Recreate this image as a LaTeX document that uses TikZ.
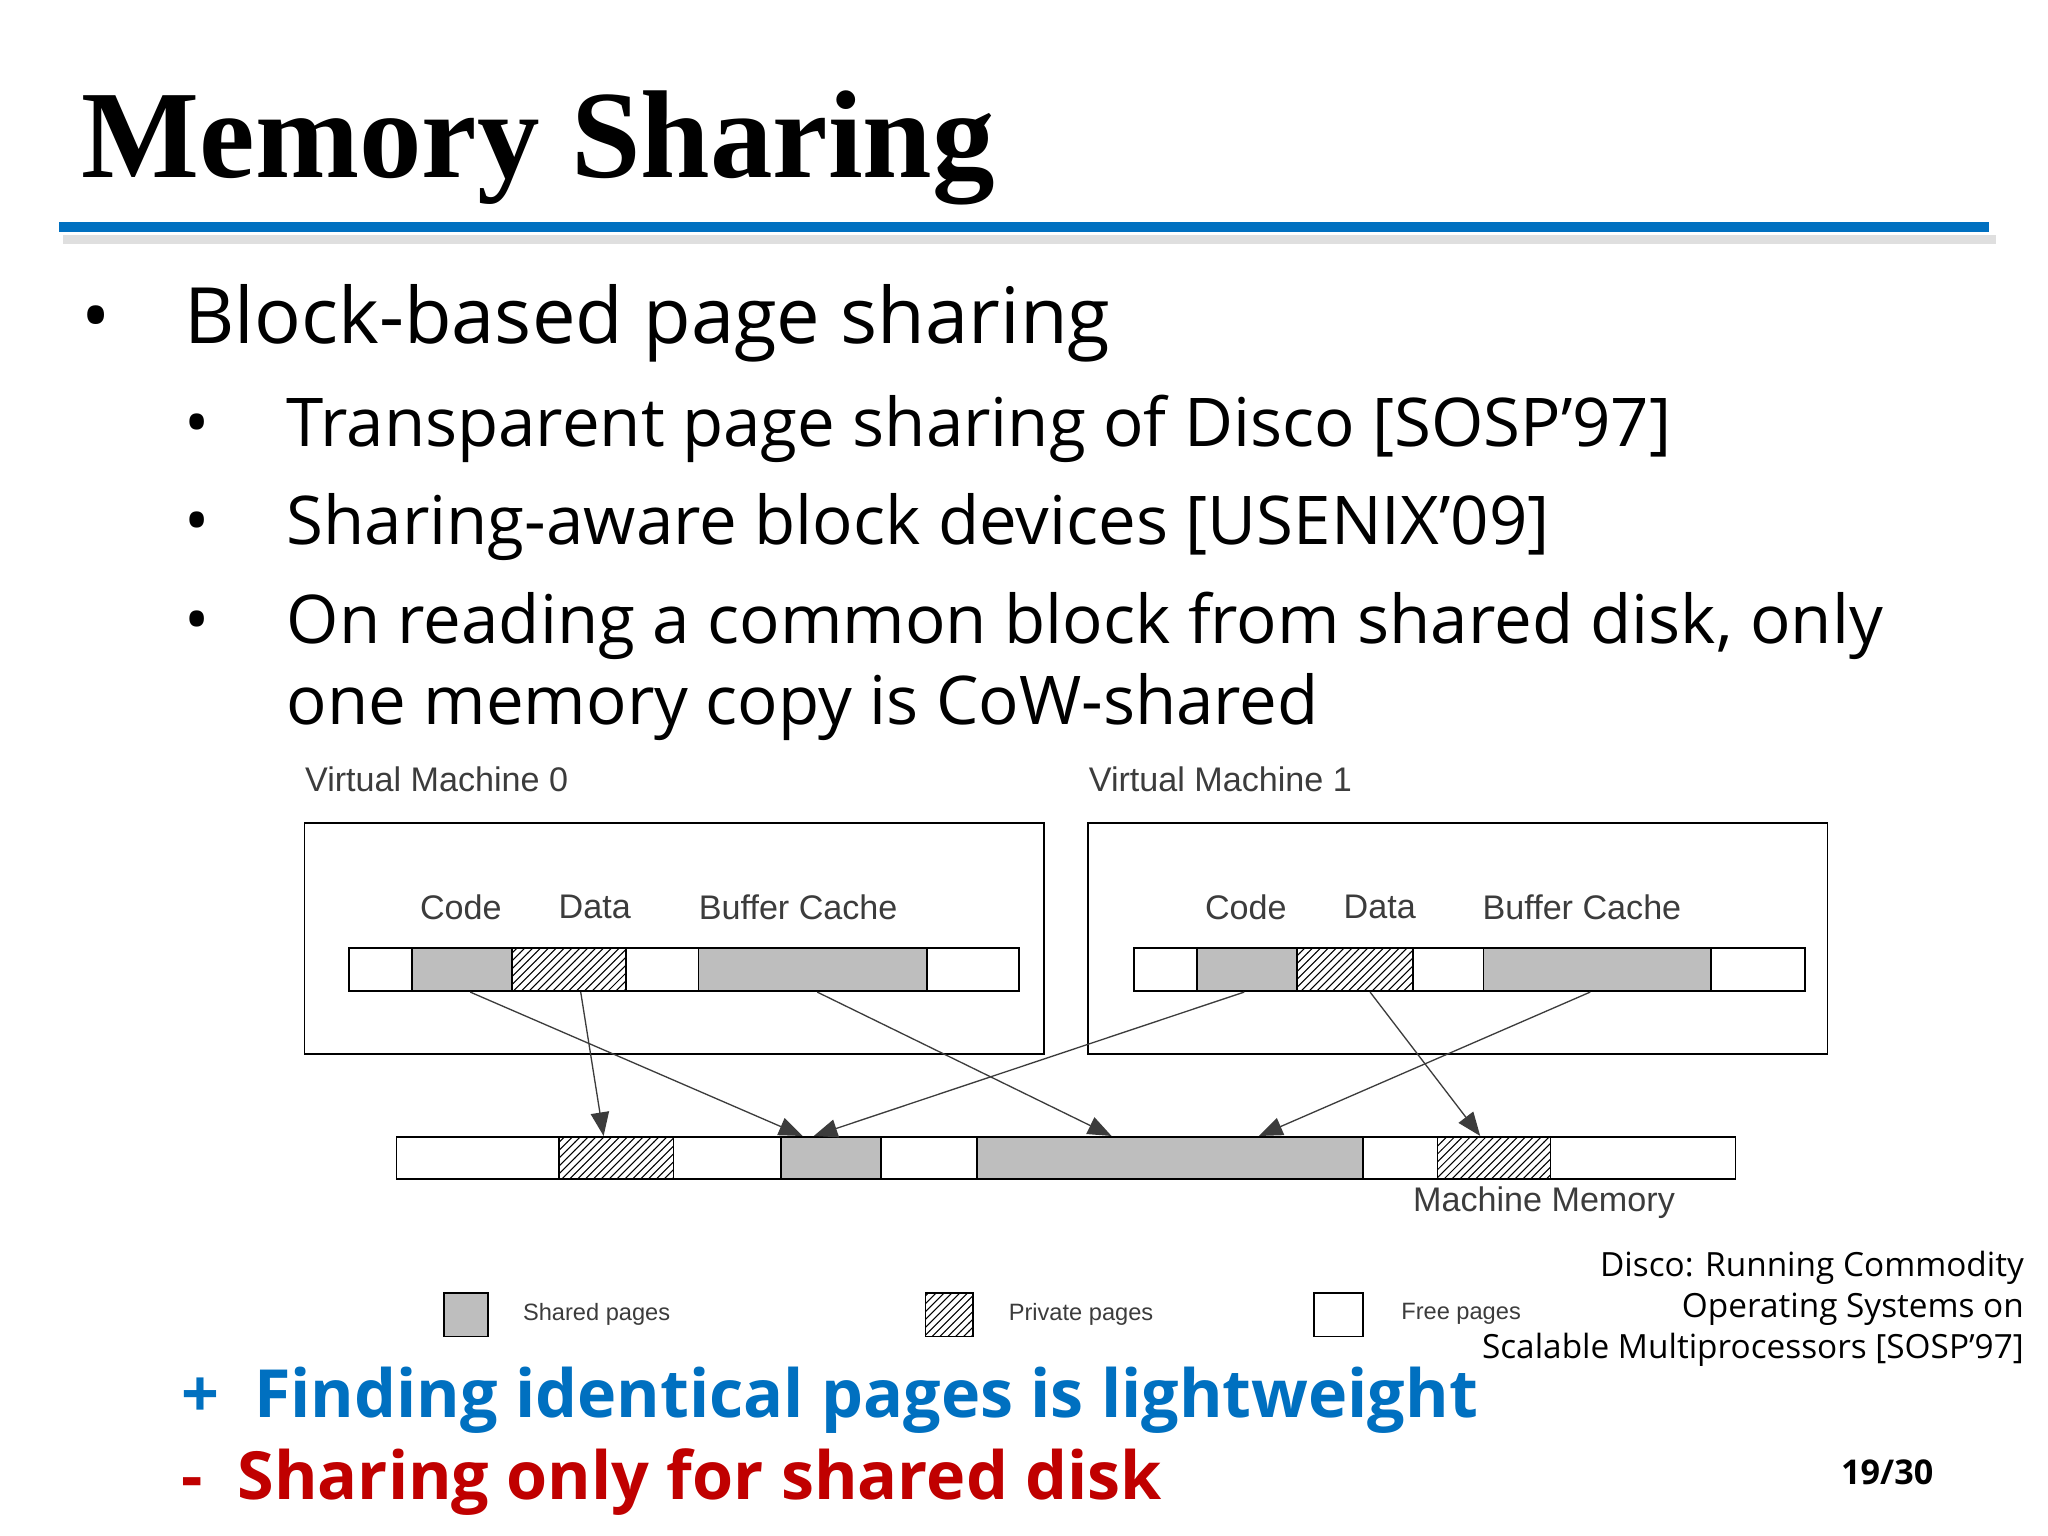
\documentclass[tikz,border=0pt]{standalone}
\usepackage{fontspec}
\setmainfont{Open Sans}
\newfontfamily\ttl{Liberation Serif}
\newfontfamily\arl{Liberation Sans}
\usetikzlibrary{fit,patterns,calc,arrows.meta}
\definecolor{tblue}{RGB}{0,112,192}
\definecolor{tred}{RGB}{192,0,0}
\definecolor{sgray}{RGB}{190,190,190}
\definecolor{lgray}{RGB}{60,60,60}
\tikzset{
 blk/.style={draw=black,line width=0.7pt,inner sep=0pt},
 shr/.style={blk,fill=sgray},
 prv/.style={blk,pattern=north east lines},
 fre/.style={blk,fill=white},
 lab/.style={font=\arl\fontsize{13}{14}\selectfont,text=lgray,inner sep=0pt},
 leg/.style={font=\arl\fontsize{9}{11}\selectfont,text=lgray,inner sep=0pt,anchor=west},
 arr/.style={-{Triangle[length=9pt,width=7pt]},line width=0.5pt,draw=lgray},
 b1/.style={font=\fontsize{29.6}{34}\selectfont,anchor=base west,inner sep=0pt},
 b2/.style={font=\fontsize{25.6}{30}\selectfont,anchor=base west,inner sep=0pt},
}
\newcommand{\blkn}[6]{\node[#6,fit={(#2,#3)(#4,#5)}] (#1) {};}
\begin{document}
\begin{tikzpicture}[x=0.5pt,y=-0.5pt]
\useasboundingbox[fill=white] (0,0) rectangle (1560,1170);
\node[font=\ttl\bfseries\fontsize{47.6}{54}\selectfont,anchor=base west,inner sep=0pt] (title) at (62,135) {Memory Sharing};
\fill[gray!25] (48,179) rectangle (1520,186);
\fill[tblue] (45,169) rectangle (1515,177);
% bullets
\node[b1] (d1) at (62,262) {•};
\node[b1] (t1) at (140,262) {Block-based page sharing};
\node[b2] (d2) at (140,340) {•};
\node[b2] (t2) at (218,340) {Transparent page sharing of Disco [SOSP’97]};
\node[b2] (d3) at (140,415) {•};
\node[b2] (t3) at (218,415) {Sharing-aware block devices [USENIX’09]};
\node[b2] (d4) at (140,490) {•};
\node[b2] (t4) at (218,490) {On reading a common block from shared disk, only};
\node[b2] (t5) at (218,552) {one memory copy is CoW-shared};
% VMs
\node[lab,anchor=base west] (vm0) at (232,603) {Virtual Machine 0};
\node[lab,anchor=base west] (vm1) at (829,603) {Virtual Machine 1};
\blkn{box0}{232}{627}{795}{803}{blk}
\blkn{box1}{829}{627}{1392}{803}{blk}
\node[lab] (c0) at (351,691) {Code};
\node[lab] (da0) at (453,691) {Data};
\node[lab] (bc0) at (608,691) {Buffer Cache};
\node[lab] (c1) at (949,691) {Code};
\node[lab] (da1) at (1051,691) {Data};
\node[lab] (bc1) at (1205,691) {Buffer Cache};
\blkn{bar0}{266}{722}{776}{755}{fre}
\blkn{vc0}{314}{722}{390}{755}{shr}
\blkn{vd0}{390}{722}{477}{755}{prv}
\blkn{vb0}{532}{722}{706}{755}{shr}
\blkn{bar1}{864}{722}{1375}{755}{fre}
\blkn{vc1}{912}{722}{988}{755}{shr}
\blkn{vd1}{988}{722}{1076}{755}{prv}
\blkn{vb1}{1130}{722}{1303}{755}{shr}
% machine memory
\blkn{mm}{302}{866}{1322}{898}{fre}
\blkn{m1}{426}{866}{513}{898}{prv}
\blkn{m2}{595}{866}{671}{898}{shr}
\blkn{m3}{744}{866}{1038}{898}{shr}
\blkn{m4}{1095}{866}{1181}{898}{prv}
\node[lab,anchor=base west] (mml) at (1076,923) {Machine Memory};
% arrows
\draw[arr] ($(vc0.south west)!0.58!(vc0.south east)$) -- ($(m2.north west)!0.22!(m2.north east)$);
\draw[arr] ($(vd0.south west)!0.6!(vd0.south east)$) -- ($(m1.north west)!0.39!(m1.north east)$);
\draw[arr] ($(vb0.south west)!0.52!(vb0.south east)$) -- ($(m3.north west)!0.35!(m3.north east)$);
\draw[arr] ($(vc1.south west)!0.47!(vc1.south east)$) -- ($(m2.north west)!0.33!(m2.north east)$);
\draw[arr] ($(vd1.south west)!0.63!(vd1.south east)$) -- ($(m4.north west)!0.38!(m4.north east)$);
\draw[arr] ($(vb1.south west)!0.47!(vb1.south east)$) -- ($(m3.north west)!0.73!(m3.north east)$);
% legend
\blkn{ls}{338}{985}{372}{1018}{shr}
\node[leg] (lst) at (398,1001) {Shared pages};
\blkn{lp}{705}{985}{741}{1018}{prv}
\node[leg] (lpt) at (768,1001) {Private pages};
\blkn{lf}{1001}{985}{1038}{1018}{fre}
\node[leg] (lft) at (1067,1001) {Free pages};
% citation
\node[font=\fontsize{12.7}{15.5}\selectfont,align=right,anchor=north east,inner sep=0pt] (cit) at (1542,953) {Disco: Running Commodity\\Operating Systems on\\Scalable Multiprocessors [SOSP’97]};
% conclusions
\node[font=\bfseries\fontsize{25.3}{30}\selectfont,text=tblue,anchor=base west,inner sep=0pt] (pl) at (138,1080) {+ \ Finding identical pages is lightweight};
\node[font=\bfseries\fontsize{25.3}{30}\selectfont,text=tred,anchor=base west,inner sep=0pt] (mi) at (138,1142) {- \ Sharing only for shared disk};
\node[font=\bfseries\fontsize{13}{15}\selectfont,anchor=base east,inner sep=0pt] (pg) at (1473,1131) {19/30};
\end{tikzpicture}
\end{document}
